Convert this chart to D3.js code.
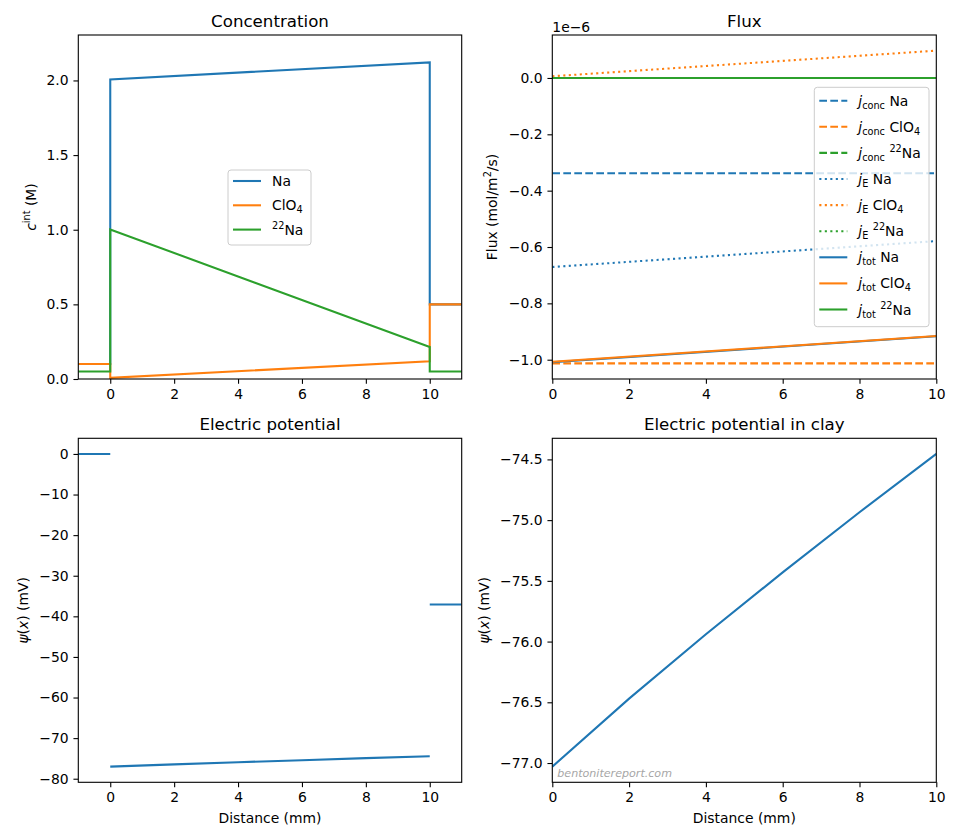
<!DOCTYPE html>
<html>
<head>
<meta charset="utf-8">
<script src="https://cdn.jsdelivr.net/npm/d3@7"></script>
<style>
  body { margin: 0; background: #fff; }
  text { font-family: "DejaVu Sans", sans-serif; white-space: pre; }
</style>
</head>
<body>
<div id="chart"></div>
<script>
// ---- data ----
const species = ["Na", "ClO4", "22Na"];
const colors = ["#1f77b4", "#ff7f0e", "#2ca02c"];

// concentration (M): reservoirs either side, linear profile inside the clay
const leftResX = [-1, 0];
const rightResX = [10, 11];
const clayX = [0, 10];
const concLeft = [0.1, 0.1, 0.05];
const concRight = [0.5, 0.5, 0.05];
const concClayNa = [2.007, 2.121];
const concClayClO4 = [0.008, 0.119];
const concClay22Na = [1.002, 0.214];

// flux, in units of 1e-6 mol/m2/s
const fluxX = [0, 10];
const jConcNa = [-0.338, -0.338];
const jConcClO4 = [-1.013, -1.013];
const jConc22Na = [0, 0];
const jENa = [-0.671, -0.579];
const jEClO4 = [0.006, 0.097];
const jE22Na = [0, 0];
const jTotNa = [-1.009, -0.917];
const jTotClO4 = [-1.007, -0.916];
const jTot22Na = [0, 0];

// electric potential (mV)
const psiLeft = 0;
const psiRight = -37.1;
const psiClayX = [0, 2, 4, 6, 8, 10];
const psiClay = [-77.03, -76.47, -75.94, -75.43, -74.935, -74.455];

// ticks
const distTicks = [0, 2, 4, 6, 8, 10];
const concYTicks = [0, 0.5, 1, 1.5, 2];
const fluxYTicks = [-1, -0.8, -0.6, -0.4, -0.2, 0];
const psiYTicks = [-80, -70, -60, -50, -40, -30, -20, -10, 0];
const clayYTicks = [-77, -76.5, -76, -75.5, -75, -74.5];

// ---- layout ----
const W = 960, H = 840;
const FS = 13.9, TITLE_FS = 16.67, LW = 2.08;
const DASH = "7.7,3.3", DOT = "2.1,3.4";

const svg = d3.select("#chart").append("svg")
  .attr("width", W).attr("height", H);
svg.append("rect").attr("width", W).attr("height", H).attr("fill", "#fff");

const speciesParts = {
  "Na": [{ t: "Na" }],
  "ClO4": [{ t: "ClO" }, { t: "4", k: "sub" }],
  "22Na": [{ t: "22", k: "sup" }, { t: "Na" }]
};

// mathtext-ish tspans: sub / sup / italic
function rich(sel, parts, fs) {
  let shift = 0;
  parts.forEach(p => {
    const target = p.k === "sub" ? 0.22 * fs : p.k === "sup" ? -0.42 * fs : 0;
    const ts = sel.append("tspan").attr("dy", target - shift).text(p.t);
    if (p.k) ts.style("font-size", (0.7 * fs) + "px");
    if (p.i) ts.style("font-style", "italic");
    shift = target;
  });
  return sel;
}

function withMargin(vals) {
  const lo = d3.min(vals), hi = d3.max(vals), m = (hi - lo) * 0.05;
  return [lo - m, hi + m];
}

let clipId = 0;
function panel(box, xDomain, yDomain, xTicks, yTicks, xFmt, yFmt, title) {
  const x = d3.scaleLinear().domain(xDomain).range([box.l, box.r]);
  const y = d3.scaleLinear().domain(yDomain).range([box.b, box.t]);
  const id = "clip" + (clipId++);
  svg.append("clipPath").attr("id", id).append("rect")
    .attr("x", box.l).attr("y", box.t)
    .attr("width", box.r - box.l).attr("height", box.b - box.t);
  const plot = svg.append("g").attr("clip-path", `url(#${id})`);

  const ax = svg.append("g")
    .attr("transform", `translate(0,${box.b})`)
    .call(d3.axisBottom(x).tickValues(xTicks).tickFormat(xFmt)
      .tickSize(4.86).tickPadding(4.86).tickSizeOuter(0));
  const ay = svg.append("g")
    .attr("transform", `translate(${box.l},0)`)
    .call(d3.axisLeft(y).tickValues(yTicks).tickFormat(yFmt)
      .tickSize(4.86).tickPadding(4.86).tickSizeOuter(0));
  [ax, ay].forEach(a => {
    a.select(".domain").remove();
    a.selectAll("line").attr("stroke", "#000").attr("stroke-width", 1.1);
    a.selectAll("text").attr("fill", "#000")
      .style("font-size", FS + "px").style("font-family", "DejaVu Sans");
  });

  svg.append("text")
    .attr("x", (box.l + box.r) / 2).attr("y", box.t - 8.3)
    .attr("text-anchor", "middle")
    .style("font-size", TITLE_FS + "px")
    .text(title);

  return { x, y, plot, box };
}

function spine(p) {
  svg.append("rect")
    .attr("x", p.box.l).attr("y", p.box.t)
    .attr("width", p.box.r - p.box.l).attr("height", p.box.b - p.box.t)
    .attr("fill", "none").attr("stroke", "#000").attr("stroke-width", 1.1);
}

function drawLine(p, pts, color, dash) {
  p.plot.append("path")
    .datum(pts)
    .attr("fill", "none")
    .attr("stroke", color)
    .attr("stroke-width", LW)
    .attr("stroke-dasharray", dash || null)
    .attr("d", d3.line().x(d => p.x(d[0])).y(d => p.y(d[1])));
}

function yLabel(xPos, box, parts) {
  const cy = (box.t + box.b) / 2;
  const t = svg.append("text")
    .attr("transform", `translate(${xPos},${cy}) rotate(-90)`)
    .attr("text-anchor", "middle")
    .style("font-size", FS + "px");
  rich(t, parts, FS);
}

function legend(x0, y0, w, h, rows) {
  svg.append("rect")
    .attr("x", x0).attr("y", y0).attr("width", w).attr("height", h)
    .attr("rx", 3).attr("fill", "#fff").attr("fill-opacity", 0.8)
    .attr("stroke", "#ccc").attr("stroke-width", 1);
  rows.forEach(r => {
    svg.append("line")
      .attr("x1", x0 + 5).attr("x2", x0 + 33)
      .attr("y1", r.y).attr("y2", r.y)
      .attr("stroke", r.color).attr("stroke-width", LW)
      .attr("stroke-dasharray", r.dash || null);
    const t = svg.append("text")
      .attr("x", x0 + 44).attr("y", r.y + 5)
      .style("font-size", FS + "px");
    rich(t, r.parts, FS);
  });
}

const fmtInt = d3.format("d");
const fmt1 = d3.format(".1f");

// ---- Concentration ----
const concClay = [concClayNa, concClayClO4, concClay22Na];
const allConc = concClay.flat().concat(concLeft, concRight);
const pc = panel({ l: 78.3, r: 461.7, t: 35, b: 379 },
  [leftResX[0], rightResX[1]], [0, d3.max(allConc) * 1.0865],
  distTicks, concYTicks, fmtInt, fmt1, "Concentration");
species.forEach((s, i) => {
  const pts = leftResX.map(x => [x, concLeft[i]])
    .concat(clayX.map((x, k) => [x, concClay[i][k]]))
    .concat(rightResX.map(x => [x, concRight[i]]));
  drawLine(pc, pts, colors[i]);
});
spine(pc);
yLabel(35.5, pc.box, [{ t: "c", i: true }, { t: "int", k: "sup" }, { t: " (M)" }]);
legend(228, 170, 83, 75, species.map((s, i) => ({
  y: 181 + i * 24.3, color: colors[i], parts: speciesParts[s]
})));

// ---- Flux ----
const fluxSeries = [
  { kind: "conc", dash: DASH, vals: [jConcNa, jConcClO4, jConc22Na] },
  { kind: "E", dash: DOT, vals: [jENa, jEClO4, jE22Na] },
  { kind: "tot", dash: null, vals: [jTotNa, jTotClO4, jTot22Na] }
];
const allFlux = fluxSeries.flatMap(f => f.vals.flat());
const pf = panel({ l: 552.3, r: 936.3, t: 35, b: 379 },
  [fluxX[0], fluxX[1]], withMargin(allFlux),
  distTicks, fluxYTicks, fmtInt, fmt1, "Flux");
const fluxRows = [];
fluxSeries.forEach(f => {
  f.vals.forEach((v, i) => {
    drawLine(pf, fluxX.map((x, k) => [x, v[k]]), colors[i], f.dash);
    fluxRows.push({
      y: 100.7 + fluxRows.length * 26.1, color: colors[i], dash: f.dash,
      parts: [{ t: "j", i: true }, { t: f.kind, k: "sub" }, { t: " " }].concat(speciesParts[species[i]])
    });
  });
});
spine(pf);
svg.append("text").attr("x", 552.3).attr("y", 31.5)
  .style("font-size", FS + "px").text("1e\u22126");
yLabel(496.5, pf.box, [{ t: "Flux (mol/m" }, { t: "2", k: "sup" }, { t: "/s)" }]);
legend(814.3, 87.3, 114.7, 239.4, fluxRows);

// ---- Electric potential ----
const psiAll = psiClay.concat([psiLeft, psiRight]);
const pp = panel({ l: 78.3, r: 461.7, t: 438.3, b: 782.3 },
  [leftResX[0], rightResX[1]], withMargin(psiAll),
  distTicks, psiYTicks, fmtInt, fmtInt, "Electric potential");
drawLine(pp, leftResX.map(x => [x, psiLeft]), colors[0]);
drawLine(pp, psiClayX.map((x, k) => [x, psiClay[k]]), colors[0]);
drawLine(pp, rightResX.map(x => [x, psiRight]), colors[0]);
spine(pp);
const psiParts = [{ t: "\u03c8", i: true }, { t: "(" }, { t: "x", i: true }, { t: ") (mV)" }];
yLabel(28, pp.box, psiParts);
svg.append("text").attr("x", (pp.box.l + pp.box.r) / 2).attr("y", pp.box.b + 40.5)
  .attr("text-anchor", "middle").style("font-size", FS + "px").text("Distance (mm)");

// ---- Electric potential in clay ----
const pk = panel({ l: 552.3, r: 936.3, t: 438.3, b: 782.3 },
  [psiClayX[0], psiClayX[psiClayX.length - 1]], withMargin(psiClay),
  distTicks, clayYTicks, fmtInt, fmt1, "Electric potential in clay");
drawLine(pk, psiClayX.map((x, k) => [x, psiClay[k]]), colors[0]);
spine(pk);
yLabel(488.5, pk.box, psiParts);
svg.append("text").attr("x", (pk.box.l + pk.box.r) / 2).attr("y", pk.box.b + 40.5)
  .attr("text-anchor", "middle").style("font-size", FS + "px").text("Distance (mm)");

// watermark
svg.append("text").attr("x", 557.3).attr("y", 776.7)
  .style("font-size", "11.1px").style("font-style", "italic")
  .attr("fill", "#a6a6a6").text("bentonitereport.com");
</script>
</body>
</html>
